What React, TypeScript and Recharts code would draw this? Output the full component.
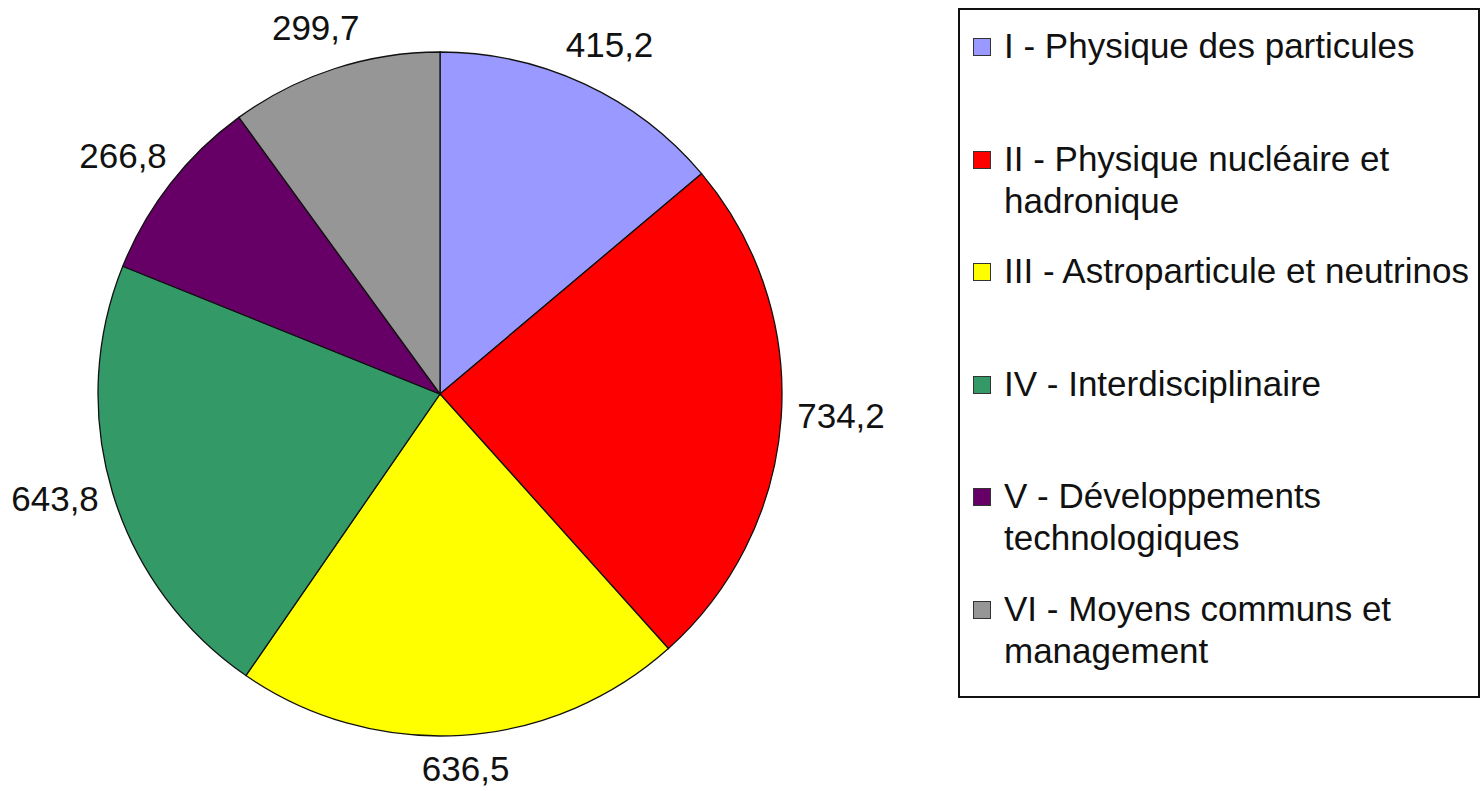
import React from "react";
import { PieChart, Pie, Cell, Legend } from "recharts";

const categories = [
  "I - Physique des particules",
  "II - Physique nucléaire et hadronique",
  "III - Astroparticule et neutrinos",
  "IV - Interdisciplinaire",
  "V - Développements technologiques",
  "VI - Moyens communs et management",
];
const values = [415.2, 734.2, 636.5, 643.8, 266.8, 299.7];
const colors = ["#9999FF", "#FF0000", "#FFFF00", "#339966", "#660066", "#969696"];

const data = categories.map((name, i) => ({ name, value: values[i] }));

const FONT = "'Liberation Sans', Arial, Helvetica, sans-serif";
const RAD = Math.PI / 180;

const fmt = (v: number) => v.toFixed(1).replace(".", ",");

const renderLabel = (props: any) => {
  const { cx, cy, midAngle, outerRadius, value } = props;
  const c = Math.cos(-midAngle * RAD);
  const s = Math.sin(-midAngle * RAD);
  const d = outerRadius + 12;
  const x = cx + d * c + 48 * c;
  const y = cy + d * s + 26 * s - 5;
  return (
    <text
      x={x}
      y={y}
      textAnchor="middle"
      dominantBaseline="central"
      fontFamily={FONT}
      fontSize={35}
      fill="#111"
    >
      {fmt(value)}
    </text>
  );
};

const renderLegend = (props: any) => {
  const payload = props.payload || [];
  return (
    <div
      style={{
        position: "relative",
        width: 518,
        height: 686,
        border: "2px solid #111",
        background: "#fff",
        fontFamily: FONT,
        fontSize: 35,
        color: "#111",
        boxSizing: "content-box",
      }}
    >
      {payload.map((entry: any, i: number) => (
        <div
          key={i}
          style={{
            position: "absolute",
            left: 13,
            top: 15 + i * 112.6,
            display: "flex",
            alignItems: "flex-start",
          }}
        >
          <div
            style={{
              width: 16,
              height: 16,
              marginTop: 13,
              background: entry.color,
              border: "1px solid #333",
              flex: "0 0 auto",
            }}
          />
          <div
            style={{
              marginLeft: 13,
              width: 478,
              lineHeight: "42px",
            }}
          >
            {entry.value}
          </div>
        </div>
      ))}
    </div>
  );
};

export default function App() {
  return (
    <div style={{ position: "absolute", left: 0, top: 0, background: "#fff" }}>
      <PieChart width={1483} height={791} margin={{ top: 0, right: 0, bottom: 0, left: 0 }}>
        <Pie
          data={data}
          dataKey="value"
          nameKey="name"
          cx={440}
          cy={394}
          outerRadius={342}
          startAngle={90}
          endAngle={-270}
          stroke="#111"
          strokeWidth={1.3}
          label={renderLabel}
          labelLine={false}
          isAnimationActive={false}
        >
          {data.map((_, i) => (
            <Cell key={i} fill={colors[i]} />
          ))}
        </Pie>
        <Legend
          content={renderLegend}
          wrapperStyle={{ position: "absolute", left: 958, top: 8, width: 522, height: 690, bottom: "auto" }}
        />
      </PieChart>
    </div>
  );
}
